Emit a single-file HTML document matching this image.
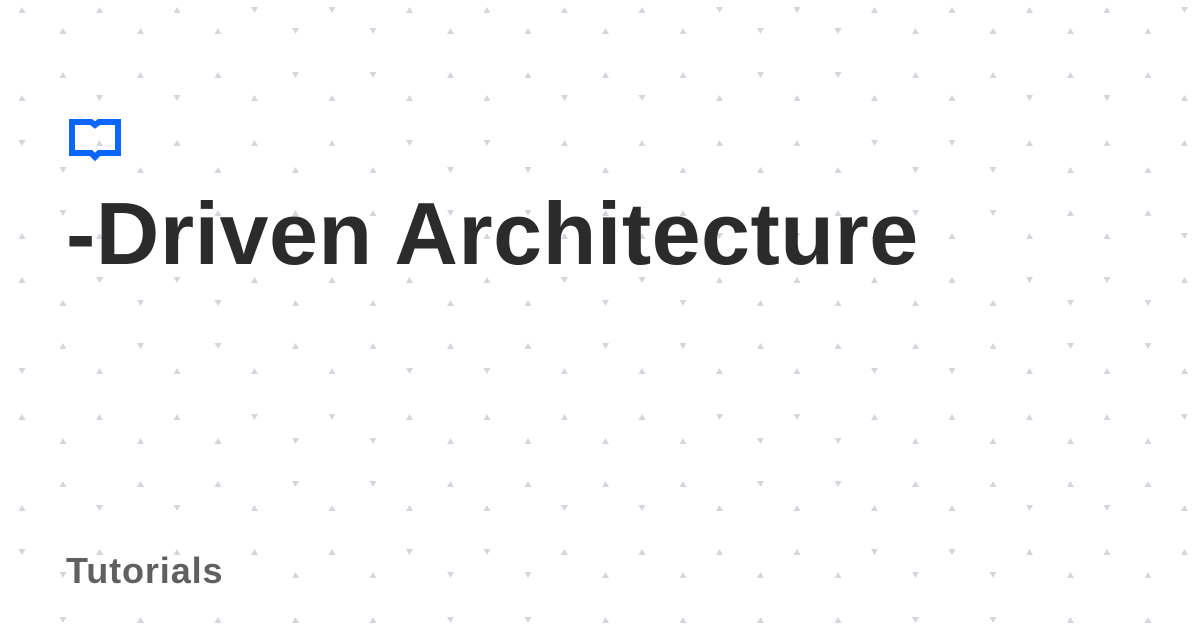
<!DOCTYPE html>
<html><head><meta charset="utf-8">
<style>
html,body{margin:0;padding:0;background:#fff;}
#c{position:relative;width:1200px;height:630px;overflow:hidden;background:#fff;}
svg{position:absolute;left:0;top:0;}
.t{position:absolute;left:66px;font-family:"Liberation Sans",sans-serif;font-weight:bold;white-space:nowrap;}
</style></head><body>
<div id="c">
<svg id="dots" width="1200" height="630"></svg>
<svg width="1200" height="630">
  <path d="M72 122 H91 L95 125 L99 122 H118 V153 H99 L95 157 L91 153 H72 Z" fill="none" stroke="#0a66ff" stroke-width="6" stroke-linejoin="miter"/>
</svg>
<div class="t" style="top:184px;font-size:88px;line-height:100px;color:#2b2b2b;letter-spacing:0.5px;">-Driven Architecture</div>
<div class="t" style="top:550px;font-size:36px;line-height:42px;color:#606060;letter-spacing:0.9px;">Tutorials</div>
</div>
<script>
var rows=[[10,22],[31,63],[75,63],[98,22],[143,22],[170,63],[213,63],[236,22],[280,22],[303,63],[346,63],[371,22],[417,22],[441,63],[484,63],[508,22],[552,22],[575,63],[620,63]];
var s='',i=0;
rows.forEach(function(r){
  for(var x=r[1];x<1200;x+=77.5){
    var up=((i*7+Math.round(x))%3)!==0; i++;
    var y=r[0];
    if(up) s+='<path d="M'+(x-3.5)+' '+(y+3)+' L'+x+' '+(y-3)+' L'+(x+3.5)+' '+(y+3)+' Z" fill="#d3d6db"/>';
    else s+='<path d="M'+(x-3.5)+' '+(y-3)+' L'+x+' '+(y+3)+' L'+(x+3.5)+' '+(y-3)+' Z" fill="#d3d6db"/>';
  }
});
document.getElementById('dots').innerHTML=s;
</script>
</body></html>
